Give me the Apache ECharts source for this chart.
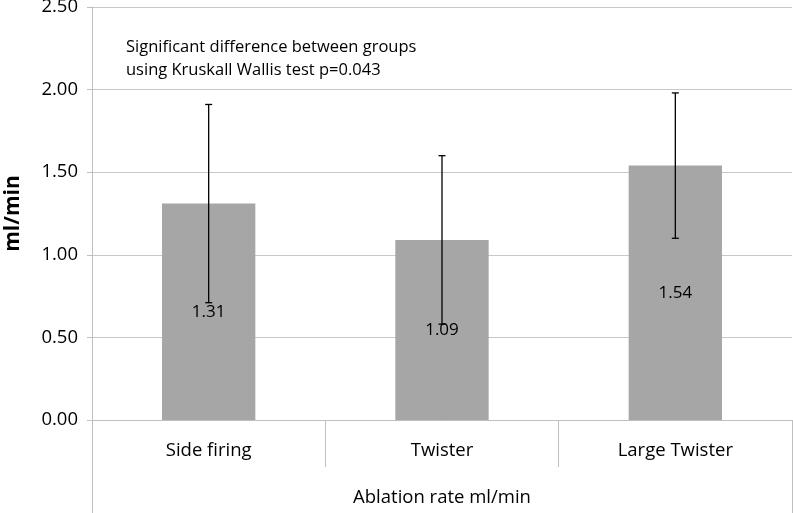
<!DOCTYPE html>
<html>
<head>
<meta charset="utf-8">
<script src="https://cdn.jsdelivr.net/npm/echarts@6/dist/echarts.min.js"></script>
<style>html,body{margin:0;padding:0;background:#fff}#c{width:793px;height:513px}</style>
</head>
<body>
<div id="c"></div>
<script>
var categories = ['Side firing', 'Twister', 'Large Twister'];
var values = [1.31, 1.09, 1.54];
var errors = [0.60, 0.51, 0.44];
var yTicks = [0, 0.5, 1, 1.5, 2, 2.5];
var axisTitle = 'Ablation rate ml/min';
var yTitle = 'ml/min';
var note = 'Significant difference between groups\nusing Kruskall Wallis test p=0.043';

var FONT = 'Open Sans';
var chart = echarts.init(document.getElementById('c'));
var errData = values.map(function (v, i) { return [i, v - errors[i], v + errors[i]]; });

chart.setOption({
  animation: false,
  textStyle: { fontFamily: FONT },
  title: {
    text: note, left: 121, top: 31,
    textStyle: { fontFamily: FONT, fontSize: 16.5, fontWeight: 'normal', color: '#000', lineHeight: 23 }
  },
  grid: { left: 92, right: 1, top: 7, bottom: 93, containLabel: false, outerBoundsMode: 'none' },
  xAxis: [{
    type: 'category', data: categories, position: 'bottom',
    axisLine: { show: true, lineStyle: { color: '#bfbfbf', width: 1 } },
    axisTick: { show: true, interval: 0, length: 47, lineStyle: { color: '#bfbfbf' } },
    axisLabel: { fontSize: 18.5, color: '#000', margin: 21, fontFamily: FONT }
  }, {
    type: 'category', data: [axisTitle], position: 'bottom', offset: 0,
    axisLine: { show: false },
    axisTick: { show: true, interval: 0, length: 93, lineStyle: { color: '#bfbfbf' } },
    axisLabel: { fontSize: 18.5, color: '#000', margin: 68, fontFamily: FONT }
  }],
  yAxis: {
    type: 'value', min: 0, max: 2.5, interval: 0.5,
    name: yTitle, nameLocation: 'middle', nameGap: 68, nameRotate: 90,
    nameTextStyle: { fontSize: 21, fontWeight: 'bold', color: '#000', fontFamily: FONT },
    axisLine: { show: true, lineStyle: { color: '#bfbfbf' } },
    axisTick: { show: true, length: 5, lineStyle: { color: '#bfbfbf' } },
    splitLine: { lineStyle: { color: '#c8c8c8' } },
    axisLabel: { fontSize: 18.5, color: '#000', margin: 14, fontFamily: FONT,
      formatter: function (v) { return v.toFixed(2); } }
  },
  series: [{
    type: 'bar', data: values, barWidth: '40%', xAxisIndex: 0,
    itemStyle: { color: '#a6a6a6' },
    label: { show: true, position: 'inside', fontSize: 17, color: '#000', fontFamily: FONT,
      formatter: function (p) { return p.value.toFixed(2); } }
  }, {
    type: 'custom', xAxisIndex: 0, z: 10, data: errData,
    renderItem: function (params, api) {
      var lo = api.coord([api.value(0), api.value(1)]);
      var hi = api.coord([api.value(0), api.value(2)]);
      var w = 3.5;
      var st = { stroke: '#000', lineWidth: 1.3 };
      return { type: 'group', children: [
        { type: 'line', shape: { x1: hi[0], y1: hi[1], x2: lo[0], y2: lo[1] }, style: st },
        { type: 'line', shape: { x1: hi[0] - w, y1: hi[1], x2: hi[0] + w, y2: hi[1] }, style: st },
        { type: 'line', shape: { x1: lo[0] - w, y1: lo[1], x2: lo[0] + w, y2: lo[1] }, style: st }
      ] };
    }
  }]
});
</script>
</body>
</html>
